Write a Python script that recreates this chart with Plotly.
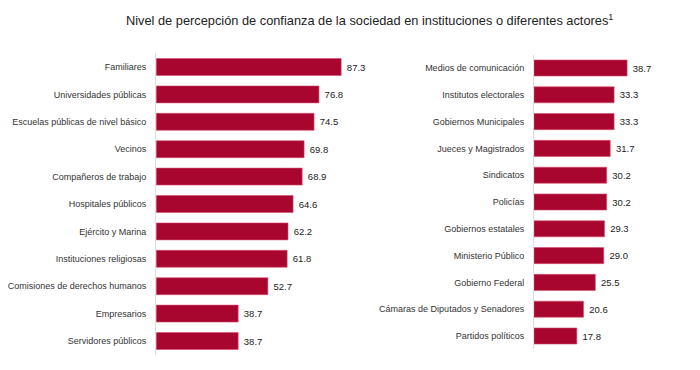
import plotly.graph_objects as go

left_labels = ["Familiares", "Universidades públicas", "Escuelas públicas de nivel básico",
               "Vecinos", "Compañeros de trabajo", "Hospitales públicos", "Ejército y Marina",
               "Instituciones religiosas", "Comisiones de derechos humanos", "Empresarios",
               "Servidores públicos"]
left_values = [87.3, 76.8, 74.5, 69.8, 68.9, 64.6, 62.2, 61.8, 52.7, 38.7, 38.7]

right_labels = ["Medios de comunicación", "Institutos electorales", "Gobiernos Municipales",
                "Jueces y Magistrados", "Sindicatos", "Policías", "Gobiernos estatales",
                "Ministerio Público", "Gobierno Federal", "Cámaras de Diputados y Senadores",
                "Partidos políticos"]
right_values = [38.7, 33.3, 33.3, 31.7, 30.2, 30.2, 29.3, 29.0, 25.5, 20.6, 17.8]

title_text = "Nivel de percepción de confianza de la sociedad en instituciones o diferentes actores<sup>1</sup>"

BAR = "#A8062F"
FONT = "Liberation Sans, Arial, sans-serif"
W, H = 700, 370
OFF = 8  # page body margin

fig = go.Figure()
fig.add_trace(go.Bar(x=left_values, y=left_labels, orientation="h", xaxis="x", yaxis="y",
                     marker=dict(color=BAR, line=dict(color="#D9506E", width=0.6)),
                     width=0.62, text=[f"\u00a0{v:.1f}" for v in left_values], textposition="outside",
                     cliponaxis=False, textfont=dict(size=9.5, color="#222", family=FONT),
                     hoverinfo="x+y"))
fig.add_trace(go.Bar(x=right_values, y=right_labels, orientation="h", xaxis="x2", yaxis="y2",
                     marker=dict(color=BAR, line=dict(color="#D9506E", width=0.6)),
                     width=0.6, text=[f"\u00a0{v:.1f}" for v in right_values], textposition="outside",
                     cliponaxis=False, textfont=dict(size=9.5, color="#222", family=FONT),
                     hoverinfo="x+y"))

def px(x):
    return (x - OFF) / W

def py(y):
    return 1 - (y - OFF) / H

axis_common = dict(showgrid=False, zeroline=False, showticklabels=False, ticks="", fixedrange=True)
fig.update_layout(
    width=W, height=H,
    margin=dict(l=0, r=0, t=0, b=0),
    paper_bgcolor="white", plot_bgcolor="white",
    showlegend=False,
    font=dict(family=FONT, color="#333"),
    xaxis=dict(domain=[px(153), px(368.3)], range=[0, 101], anchor="y", **axis_common),
    yaxis=dict(domain=[py(354.7), py(53.3)], range=[10.5, -0.5], anchor="x",
               showline=True, linecolor="#DDDDDD", linewidth=1, showgrid=False,
               ticks="outside", ticklen=7, tickcolor="rgba(0,0,0,0)",
               tickfont=dict(size=9, color="#333", family=FONT)),
    xaxis2=dict(domain=[px(533), px(654)], range=[0, 50], anchor="y2", **axis_common),
    yaxis2=dict(domain=[py(349.4), py(54.6)], range=[10.5, -0.5], anchor="x2",
                showline=True, linecolor="#DDDDDD", linewidth=1, showgrid=False,
                ticks="outside", ticklen=7, tickcolor="rgba(0,0,0,0)",
                tickfont=dict(size=9, color="#333", family=FONT)),
    annotations=[dict(text=title_text, x=px(368), y=py(20), xref="paper", yref="paper",
                      xanchor="center", yanchor="middle", showarrow=False,
                      font=dict(size=12.8, color="#222", family=FONT))],
)

fig.write_html("out.html")
